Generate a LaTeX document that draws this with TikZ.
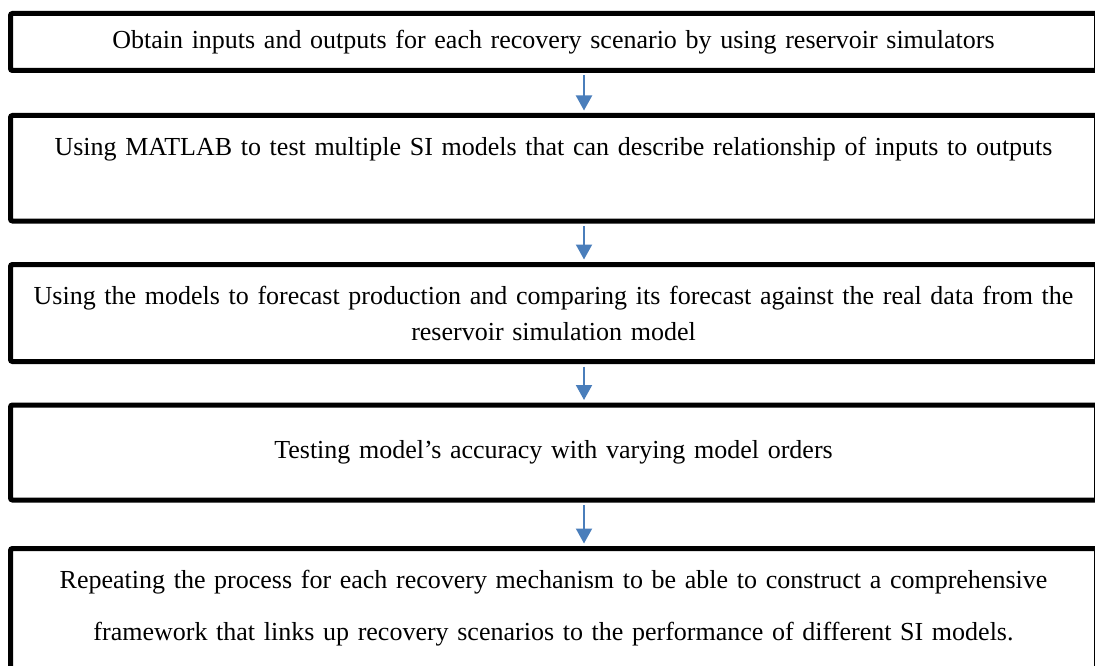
\documentclass[tikz,border=0pt]{standalone}
\usepackage{fontspec}
\setmainfont{Liberation Serif}
\usetikzlibrary{arrows.meta}

\definecolor{arrowblue}{RGB}{74,126,187}

\tikzset{
  stage/.style={draw, line width=5pt, rounded corners=2pt, inner sep=0pt,
                minimum width=1086pt, text width=1076pt, align=center,
                font=\fontsize{26}{36}\selectfont},
  flow/.style={draw=arrowblue, line width=2pt,
               -{Triangle[width=16pt,length=15pt]},
               shorten <=2.5pt, shorten >=2.5pt}
}

\begin{document}
\begin{tikzpicture}[x=1pt,y=-1pt]
\useasboundingbox (0,0) rectangle (1095,666);

\node[stage, minimum height=57pt] (obtain) at (553.5,42) {Obtain inputs and outputs for each recovery scenario by using reservoir simulators};
\node[stage, minimum height=105.5pt] (matlab) at (553.5,168.25) {Using MATLAB to test multiple SI models that can describe relationship of inputs to outputs \\[8pt] ~};
\node[stage, minimum height=97pt] (forecast) at (553.5,313) {Using the models to forecast production and comparing its forecast against the real data from the \\
                                        reservoir simulation model};
\node[stage, minimum height=95pt] (orders) at (553.5,452.5) {Testing model’s accuracy with varying model orders};
\node[stage, minimum height=166.5pt, font=\fontsize{26}{52}\selectfont] (repeat) at (553.5,631.75) {Repeating the process for each recovery mechanism to be able to construct a comprehensive \\
                                        framework that links up recovery scenarios to the performance of different SI models. \\ ~};

% arrows sit right of the box centres
\coordinate (ax) at (584,0);
\draw[flow] (obtain.south -| ax) -- (matlab.north -| ax);
\draw[flow] (matlab.south -| ax) -- (forecast.north -| ax);
\draw[flow] (forecast.south -| ax) -- (orders.north -| ax);
\draw[flow] (orders.south -| ax) -- (repeat.north -| ax);
\end{tikzpicture}
\end{document}
